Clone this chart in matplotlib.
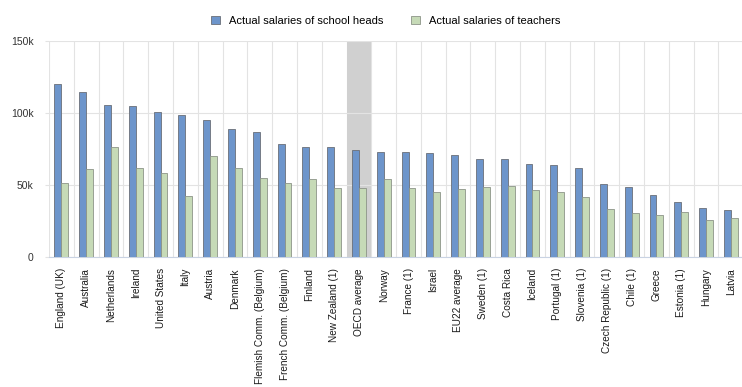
import matplotlib.pyplot as plt
import numpy as np

countries = ['England (UK)', 'Australia', 'Netherlands', 'Ireland', 'United States',
             'Italy', 'Austria', 'Denmark', 'Flemish Comm. (Belgium)',
             'French Comm. (Belgium)', 'Finland', 'New Zealand (1)', 'OECD average',
             'Norway', 'France (1)', 'Israel', 'EU22 average', 'Sweden (1)',
             'Costa Rica', 'Iceland', 'Portugal (1)', 'Slovenia (1)',
             'Czech Republic (1)', 'Chile (1)', 'Greece', 'Estonia (1)',
             'Hungary', 'Latvia']
heads = [120, 114.7, 105.4, 104.7, 100.7, 98.7, 94.9, 88.9, 87.0, 78.6, 76.5, 76.5,
         74.5, 73.1, 73.1, 71.9, 70.7, 68.0, 68.0, 64.5, 63.8, 61.7, 50.7, 48.8,
         42.8, 38.2, 34.2, 32.8]
teachers = [51.2, 61.0, 76.5, 61.7, 58.6, 42.1, 70.0, 61.7, 55.1, 51.2, 54.4, 48.2,
            48.2, 54.4, 48.2, 44.9, 47.2, 48.6, 49.3, 46.5, 45.4, 41.4, 33.0, 30.2,
            29.1, 31.0, 25.6, 27.0]
highlight = 'OECD average'

plt.rcParams['font.family'] = ['Liberation Sans', 'DejaVu Sans']

fig = plt.figure(figsize=(7.42, 3.87), dpi=100)
ax = fig.add_axes([0.066, 0.336, 0.934, 0.558])

x = np.arange(len(countries))
w = 0.28
ax.bar(x - w / 2, np.array(heads) * 1000, w, color='#6d95cb', edgecolor='#6a6f78',
       linewidth=0.6, label='Actual salaries of school heads', zorder=3)
ax.bar(x + w / 2, np.array(teachers) * 1000, w, color='#c6dab7', edgecolor='#8c9488',
       linewidth=0.6, label='Actual salaries of teachers', zorder=3)

hi = countries.index(highlight)
ax.axvspan(hi - 0.5, hi + 0.5, color='#d0d0d0', zorder=1, lw=0)

# vertical separators between categories
for b in np.arange(-0.5, len(countries), 1.0):
    ax.axvline(b, color='#e3e3e3', lw=0.8, zorder=0)

ax.set_xlim(-0.5, len(countries) - 0.55)
ax.set_ylim(0, 150000)
ax.set_yticks([0, 50000, 100000, 150000])
ax.set_yticklabels(['0', '50k', '100k', '150k'], fontsize=7.5, color='#333333')
ax.yaxis.grid(True, color='#e3e3e3', lw=0.8, zorder=0)
ax.tick_params(axis='y', length=3, color='#e3e3e3', pad=8)

ax.set_xticks(x)
ax.set_xticklabels(countries, rotation=90, fontsize=7.2, color='#1a1a1a')
ax.tick_params(axis='x', length=0, pad=8)

for s in ['top', 'right', 'left']:
    ax.spines[s].set_visible(False)
ax.spines['bottom'].set_color('#c9d3e3')

fig.legend(loc='upper center', bbox_to_anchor=(0.52, 0.985), ncol=2, frameon=False,
           fontsize=8, handlelength=0.8, handleheight=0.8, columnspacing=2.5,
           handletextpad=0.8)

plt.savefig('out.png', dpi=100)
